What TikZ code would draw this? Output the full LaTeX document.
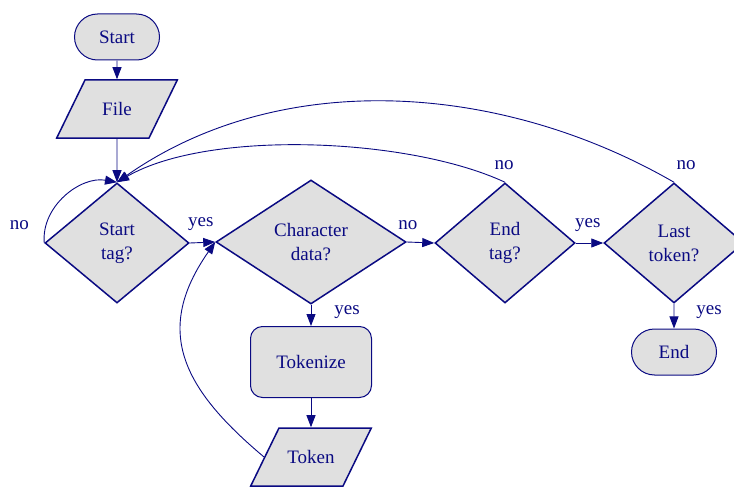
\documentclass[tikz,border=0pt]{standalone}
\usepackage{fontspec}
\setmainfont{Liberation Serif}
\usetikzlibrary{shapes.geometric,shapes.misc,arrows.meta,calc}
\definecolor{ink}{RGB}{10,10,130}
\definecolor{boxfill}{RGB}{224,224,224}

\begin{document}
\begin{tikzpicture}[x=1pt,y=1pt,
  every node/.style={text=ink, font=\rmfamily\fontsize{19}{24}\selectfont},
  shapebase/.style={draw=ink, fill=boxfill, line width=1.5pt, align=center, inner sep=0pt},
  pill/.style={shapebase, rounded rectangle, minimum width=85pt, minimum height=46pt, line width=1pt},
  iobox/.style={shapebase, trapezium, trapezium left angle=64, trapezium right angle=116,
    text width=64pt, text height=13pt, text depth=0pt, inner xsep=0pt, inner ysep=22.5pt},
  decision/.style={shapebase, diamond, aspect=1.2},
  procbox/.style={shapebase, rounded corners=12pt, minimum width=121pt, minimum height=71pt, line width=1pt},
  flow/.style={draw=ink, line width=0.9pt, -{Triangle[length=12pt,width=9pt]}},
  tag/.style={inner sep=0pt}
]
\useasboundingbox (0,0) rectangle (734,-487);

% nodes
\node[pill] (start) at (117,-37) {Start};
\node[iobox] (file) at (117,-109) {File};
\node[decision, minimum width=144pt, minimum height=120pt] (st) at (117,-243) {Start\\tag?};
\node[decision, minimum width=190pt, minimum height=124pt] (cd) at (311,-242) {Character\\data?};
\node[decision, minimum width=140pt, minimum height=120pt] (et) at (505,-243) {End\\tag?};
\node[decision, minimum width=140pt, minimum height=120pt] (lt) at (674,-243) {Last\\token?};
\node[procbox] (tok) at (311,-362) {Tokenize};
\node[iobox] (token) at (311,-457) {Token};
\node[pill] (end) at (674,-352) {End};

% connectors
\draw[flow] (start) -- (file);
\draw[flow] (file) -- (st);
\draw[flow] (st.west) to[out=95,in=170] (st.north);
\draw[flow] (st.east) -- (cd.west);
\draw[flow] (cd.east) -- (et.west);
\draw[flow] (cd.south) -- (tok.north);
\draw[flow] (tok) -- (token);
\draw[flow] (token.west) to[out=140,in=235,looseness=1.25] (cd.west);
\draw[flow] (et.east) -- (lt.west);
\draw[flow] (et.north) to[out=155,in=30,looseness=0.7] (st.north);
\draw[flow] (lt.north) to[out=150,in=35,looseness=0.92] (st.north);
\draw[flow] (lt.south) -- (end);

% branch labels
\node[tag] at ($(st.west)+(-25,18)$) {no};
\node[tag] at ($(st.east)+(11,19)$) {yes};
\node[tag] at ($(cd.east)+(1,17)$) {no};
\node[tag] at ($(cd.south)+(36,-7)$) {yes};
\node[tag] at ($(et.north)+(-1,17)$) {no};
\node[tag] at ($(lt.north)+(12,17)$) {no};
\node[tag] at ($(et.east)+(12,18)$) {yes};
\node[tag] at ($(lt.south)+(35,-8)$) {yes};
\end{tikzpicture}
\end{document}
